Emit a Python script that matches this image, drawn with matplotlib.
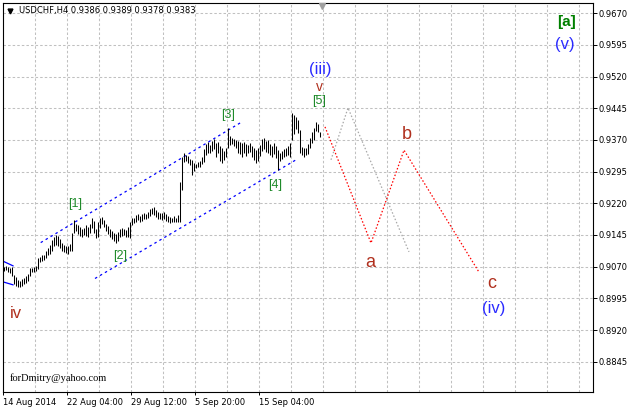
import numpy as np
import matplotlib
matplotlib.use("Agg")
import matplotlib.pyplot as plt

# USDCHF H4, bar highs / lows (bar 0 = 14 Aug 2014 20:00)
highs = [
    0.9070, 0.9071, 0.9069, 0.9068, 0.9070, 0.9050, 0.9046, 0.9038, 0.9036, 0.9040,
    0.9043, 0.9049, 0.9052, 0.9066, 0.9068, 0.9070, 0.9072, 0.9090, 0.9094, 0.9097,
    0.9098, 0.9108, 0.9115, 0.9121, 0.9132, 0.9140, 0.9145, 0.9143, 0.9135, 0.9126,
    0.9122, 0.9120, 0.9118, 0.9124, 0.9150, 0.9180, 0.9172, 0.9168, 0.9165, 0.9160,
    0.9162, 0.9168, 0.9164, 0.9172, 0.9185, 0.9178, 0.9160, 0.9175, 0.9185, 0.9188,
    0.9180, 0.9172, 0.9166, 0.9160, 0.9155, 0.9150, 0.9148, 0.9152, 0.9160, 0.9162,
    0.9160, 0.9158, 0.9163, 0.9176, 0.9185, 0.9186, 0.9192, 0.9195, 0.9190, 0.9194,
    0.9197, 0.9195, 0.9200, 0.9206, 0.9210, 0.9212, 0.9205, 0.9200, 0.9198, 0.9196,
    0.9199, 0.9194, 0.9190, 0.9188, 0.9186, 0.9189, 0.9185, 0.9192, 0.9271, 0.9330,
    0.9338, 0.9335, 0.9332, 0.9326, 0.9322, 0.9316, 0.9314, 0.9318, 0.9320, 0.9330,
    0.9348, 0.9360, 0.9365, 0.9358, 0.9368, 0.9372, 0.9362, 0.9366, 0.9355, 0.9350,
    0.9345, 0.9352, 0.9398, 0.9380, 0.9375, 0.9372, 0.9370, 0.9368, 0.9365, 0.9362,
    0.9366, 0.9360, 0.9358, 0.9362, 0.9356, 0.9350, 0.9346, 0.9350, 0.9358, 0.9372,
    0.9375, 0.9368, 0.9370, 0.9360, 0.9356, 0.9362, 0.9355, 0.9346, 0.9340, 0.9345,
    0.9348, 0.9352, 0.9355, 0.9363, 0.9434, 0.9430, 0.9424, 0.9418, 0.9394, 0.9353,
    0.9350, 0.9352, 0.9360, 0.9375, 0.9390, 0.9398, 0.9413, 0.9408, 0.9389,
]
lows = [
    0.9060, 0.9062, 0.9058, 0.9056, 0.9047, 0.9030, 0.9025, 0.9022, 0.9021, 0.9024,
    0.9028, 0.9032, 0.9036, 0.9048, 0.9057, 0.9058, 0.9060, 0.9065, 0.9080, 0.9083,
    0.9085, 0.9090, 0.9097, 0.9100, 0.9108, 0.9118, 0.9122, 0.9118, 0.9115, 0.9108,
    0.9104, 0.9103, 0.9101, 0.9106, 0.9108, 0.9150, 0.9155, 0.9148, 0.9143, 0.9140,
    0.9145, 0.9142, 0.9140, 0.9150, 0.9162, 0.9150, 0.9138, 0.9140, 0.9162, 0.9170,
    0.9164, 0.9155, 0.9148, 0.9140, 0.9136, 0.9130, 0.9126, 0.9130, 0.9140, 0.9142,
    0.9145, 0.9140, 0.9141, 0.9138, 0.9168, 0.9173, 0.9176, 0.9180, 0.9176, 0.9178,
    0.9182, 0.9183, 0.9186, 0.9190, 0.9195, 0.9192, 0.9188, 0.9183, 0.9182, 0.9180,
    0.9184, 0.9178, 0.9176, 0.9174, 0.9175, 0.9176, 0.9176, 0.9175, 0.9176, 0.9252,
    0.9318, 0.9320, 0.9316, 0.9310, 0.9287, 0.9296, 0.9304, 0.9306, 0.9306, 0.9312,
    0.9318, 0.9335, 0.9340, 0.9338, 0.9345, 0.9348, 0.9330, 0.9340, 0.9320, 0.9316,
    0.9322, 0.9330, 0.9350, 0.9358, 0.9360, 0.9355, 0.9352, 0.9340, 0.9336, 0.9330,
    0.9340, 0.9332, 0.9338, 0.9342, 0.9330, 0.9322, 0.9316, 0.9320, 0.9332, 0.9345,
    0.9348, 0.9342, 0.9338, 0.9334, 0.9330, 0.9336, 0.9328, 0.9299, 0.9320, 0.9325,
    0.9330, 0.9332, 0.9335, 0.9330, 0.9370, 0.9385, 0.9395, 0.9387, 0.9339, 0.9334,
    0.9330, 0.9334, 0.9336, 0.9350, 0.9362, 0.9370, 0.9392, 0.9390, 0.9378,
]

price_ticks = [0.9670, 0.9595, 0.9520, 0.9445, 0.9370, 0.9295, 0.9220,
               0.9145, 0.9070, 0.8995, 0.8920, 0.8845]
date_labels = ["14 Aug 2014", "22 Aug 04:00", "29 Aug 12:00", "5 Sep 20:00", "15 Sep 04:00"]
date_bars = [0, 32, 64, 96, 128]

# channel lines (bar index, price)
upper_x, upper_y = [18.35, 119], [0.9127, 0.9413]
lower_x, lower_y = [45.5, 146], [0.9042, 0.9323]
left1_x, left1_y = [-0.5, 4.5], [0.9083, 0.9072]
left2_x, left2_y = [-0.5, 4.5], [0.9034, 0.9027]
# projected waves
red_x = [160.5, 183.5, 200, 237.5]
red_y = [0.9401, 0.9126, 0.9346, 0.9057]
gray_x = [163.5, 172, 202.5]
gray_y = [0.9323, 0.9446, 0.9105]

# wave labels: text, bar, price, colour, size, weight
green = "#1f8a2a"
brown = "#b0301e"
blue = "#2a2aff"
labels = [
    ("[1]", 35.5, 0.9218, green, 9, "normal"),
    ("[2]", 58, 0.9095, green, 9, "normal"),
    ("[3]", 112, 0.9429, green, 9, "normal"),
    ("[4]", 135.5, 0.9263, green, 9, "normal"),
    ("[5]", 157.5, 0.9462, green, 9, "normal"),
    ("v", 157.5, 0.9496, brown, 10, "normal"),
    ("(iii)", 158, 0.9538, blue, 12, "normal"),
    ("a", 183, 0.9081, brown, 13, "normal"),
    ("b", 201.5, 0.9382, brown, 13, "normal"),
    ("c", 244, 0.9029, brown, 13, "normal"),
    ("(iv)", 245, 0.8972, blue, 12, "normal"),
    ("[a]", 281, 0.9649, "#008000", 11, "bold"),
    ("(v)", 280.5, 0.9597, blue, 12, "normal"),
    ("iv", 6, 0.8960, brown, 12, "normal"),
]

W, H = 629, 409
fig = plt.figure(figsize=(W / 100, H / 100), dpi=100)
ax = fig.add_axes([3 / W, 1 - 392 / H, 590 / W, 389 / H])

ax.set_xlim(-0.5, 294.5)
ax.set_ylim(0.87732, 0.96944)

# grid
for p in price_ticks:
    ax.axhline(p, color="#c0c0c0", lw=0.75, ls=(0, (2.4, 2)), zorder=0)
for g in np.arange(15.5, 290, 16):
    ax.axvline(g, color="#c0c0c0", lw=0.75, ls=(0, (2.4, 2)), zorder=0)

bars = np.arange(len(highs))
ax.vlines(bars, lows, highs, color="black", lw=0.75, zorder=3)

ax.plot(upper_x, upper_y, color="blue", lw=0.9, ls=(0, (2, 2.6)), zorder=2)
ax.plot(lower_x, lower_y, color="blue", lw=0.9, ls=(0, (2, 2.6)), zorder=2)
ax.plot(left1_x, left1_y, color="blue", lw=0.9, zorder=2)
ax.plot(left2_x, left2_y, color="blue", lw=0.9, zorder=2)
ax.plot(red_x, red_y, color="red", lw=0.9, ls=(0, (1.2, 1.6)), zorder=2)
ax.plot(gray_x, gray_y, color="#a8a8a8", lw=0.9, ls=(0, (1.2, 1.6)), zorder=2)

for txt, bx, py, col, sz, wt in labels:
    ax.text(bx, py, txt, color=col, fontsize=sz, fontweight=wt,
            family="Liberation Sans", ha="center", va="center", zorder=4)

# axes look like MT4
for s in ax.spines.values():
    s.set_color("black")
    s.set_linewidth(0.8)
ax.yaxis.tick_right()
ax.set_yticks(price_ticks)
ax.set_yticklabels([f"{p:.4f}" for p in price_ticks])
ax.tick_params(axis="y", direction="out", length=3, width=0.7, pad=1,
               labelsize=6, colors="black")
ax.set_xticks([b - 0.5 for b in date_bars])
ax.set_xticklabels(date_labels)
ax.tick_params(axis="x", direction="out", length=2.5, width=0.7, pad=1.5,
               labelsize=6, colors="black")
for lbl in ax.get_xticklabels():
    lbl.set_horizontalalignment("left")

# shift marker and title
ax.plot([159], [0.992], marker="v", color="#a0a0a0", ms=5,
        transform=ax.get_xaxis_transform(), clip_on=False, zorder=5)
ax.plot([0.0119], [0.979], marker="v", color="black", ms=3.5,
        transform=ax.transAxes, clip_on=False, zorder=5)
fig.text(19 / W, 1 - 10.5 / H, "USDCHF,H4 0.9386 0.9389 0.9378 0.9383",
         fontsize=6, va="center", ha="left", color="black")
fig.text(10 / W, 1 - 378 / H, "forDmitry@yahoo.com", fontsize=7.5,
         family="Liberation Serif", va="center", ha="left", color="black")

fig.savefig("out.png", dpi=100)
